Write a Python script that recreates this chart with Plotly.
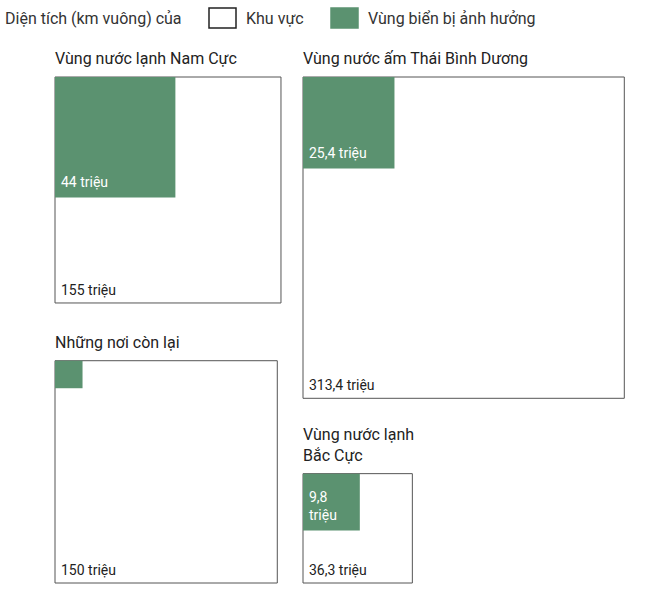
import math
import plotly.graph_objects as go

# ---- data (million km²) ----
regions = ["Vùng nước lạnh Nam Cực", "Vùng nước ấm Thái Bình Dương",
           "Những nơi còn lại", "Vùng nước lạnh<br>Bắc Cực"]
region_area = [155, 313.4, 150, 36.3]
sea_area = [44, 25.4, 2.3, 9.8]
region_labels = ["155 triệu", "313,4 triệu", "150 triệu", "36,3 triệu"]
sea_labels = ["44 triệu", "25,4 triệu", "", "9,8<br>triệu"]
legend_title = "Diện tích (km vuông) của"
legend_names = ["Khu vực", "Vùng biển bị ảnh hưởng"]

# ---- layout / style ----
W, H = 650, 593
SCALE = 18.15          # pixels per sqrt(million km²)
GREEN = "#5b9270"
BORDER = "#555555"
TXT = "#222222"
FONT = "Roboto"
# anchor: (left x, vertical reference, 'top' or 'bottom' aligned)
anchors = [(55, 77, "top"), (303, 77, "top"), (55, 583, "bottom"), (303, 583, "bottom")]

fig = go.Figure()
shapes = []
annotations = []

for name, ra, sa, rl, sl, (ax, ay, mode) in zip(regions, region_area, sea_area,
                                               region_labels, sea_labels, anchors):
    side = SCALE * math.sqrt(ra)
    inner = SCALE * math.sqrt(sa)
    top = ay if mode == "top" else ay - side
    bottom = top + side
    shapes.append(dict(type="rect", xref="x", yref="y", x0=ax, x1=ax + side,
                       y0=top, y1=bottom, line=dict(color=BORDER, width=1),
                       fillcolor="white", layer="below"))
    shapes.append(dict(type="rect", xref="x", yref="y", x0=ax, x1=ax + inner,
                       y0=top, y1=top + inner, line=dict(width=0),
                       fillcolor=GREEN, layer="below"))
    annotations.append(dict(x=ax - 2, y=top - 7, xref="x", yref="y", text=name,
                            showarrow=False, xanchor="left", yanchor="bottom",
                            align="left", font=dict(size=16, color=TXT, family=FONT)))
    annotations.append(dict(x=ax + 4, y=bottom - 3, xref="x", yref="y", text=rl,
                            showarrow=False, xanchor="left", yanchor="bottom",
                            align="left", font=dict(size=14, color=TXT, family=FONT)))
    if sl:
        annotations.append(dict(x=ax + 4, y=top + inner - 5, xref="x", yref="y", text=sl,
                                showarrow=False, xanchor="left", yanchor="bottom",
                                align="left", font=dict(size=14, color="white", family=FONT)))

# legend (drawn manually)
annotations.append(dict(x=3, y=18, xref="x", yref="y", text=legend_title, showarrow=False,
                        xanchor="left", yanchor="middle",
                        font=dict(size=16, color="#333", family=FONT)))
legend_boxes = [(209, "white"), (331, GREEN)]
for (bx, col), nm in zip(legend_boxes, legend_names):
    shapes.append(dict(type="rect", xref="x", yref="y", x0=bx, x1=bx + 27, y0=8, y1=28,
                       line=dict(color="#222" if col == "white" else GREEN, width=1.5),
                       fillcolor=col))
    annotations.append(dict(x=bx + 35, y=18, xref="x", yref="y", text=nm, showarrow=False,
                            xanchor="left", yanchor="middle",
                            font=dict(size=16, color="#333", family=FONT)))

fig.add_trace(go.Scatter(x=[0, W], y=[0, H], mode="markers",
                         marker=dict(opacity=0), hoverinfo="skip", showlegend=False))

fig.update_layout(
    width=W, height=H, margin=dict(l=0, r=0, t=0, b=0),
    paper_bgcolor="white", plot_bgcolor="white",
    xaxis=dict(range=[0, W], visible=False, fixedrange=True),
    yaxis=dict(range=[H, 0], visible=False, fixedrange=True),
    shapes=shapes, annotations=annotations, showlegend=False,
)

fig.write_html("out.html", config={"displayModeBar": False},
               post_script="document.body.style.margin='0';document.body.style.overflow='hidden';")
